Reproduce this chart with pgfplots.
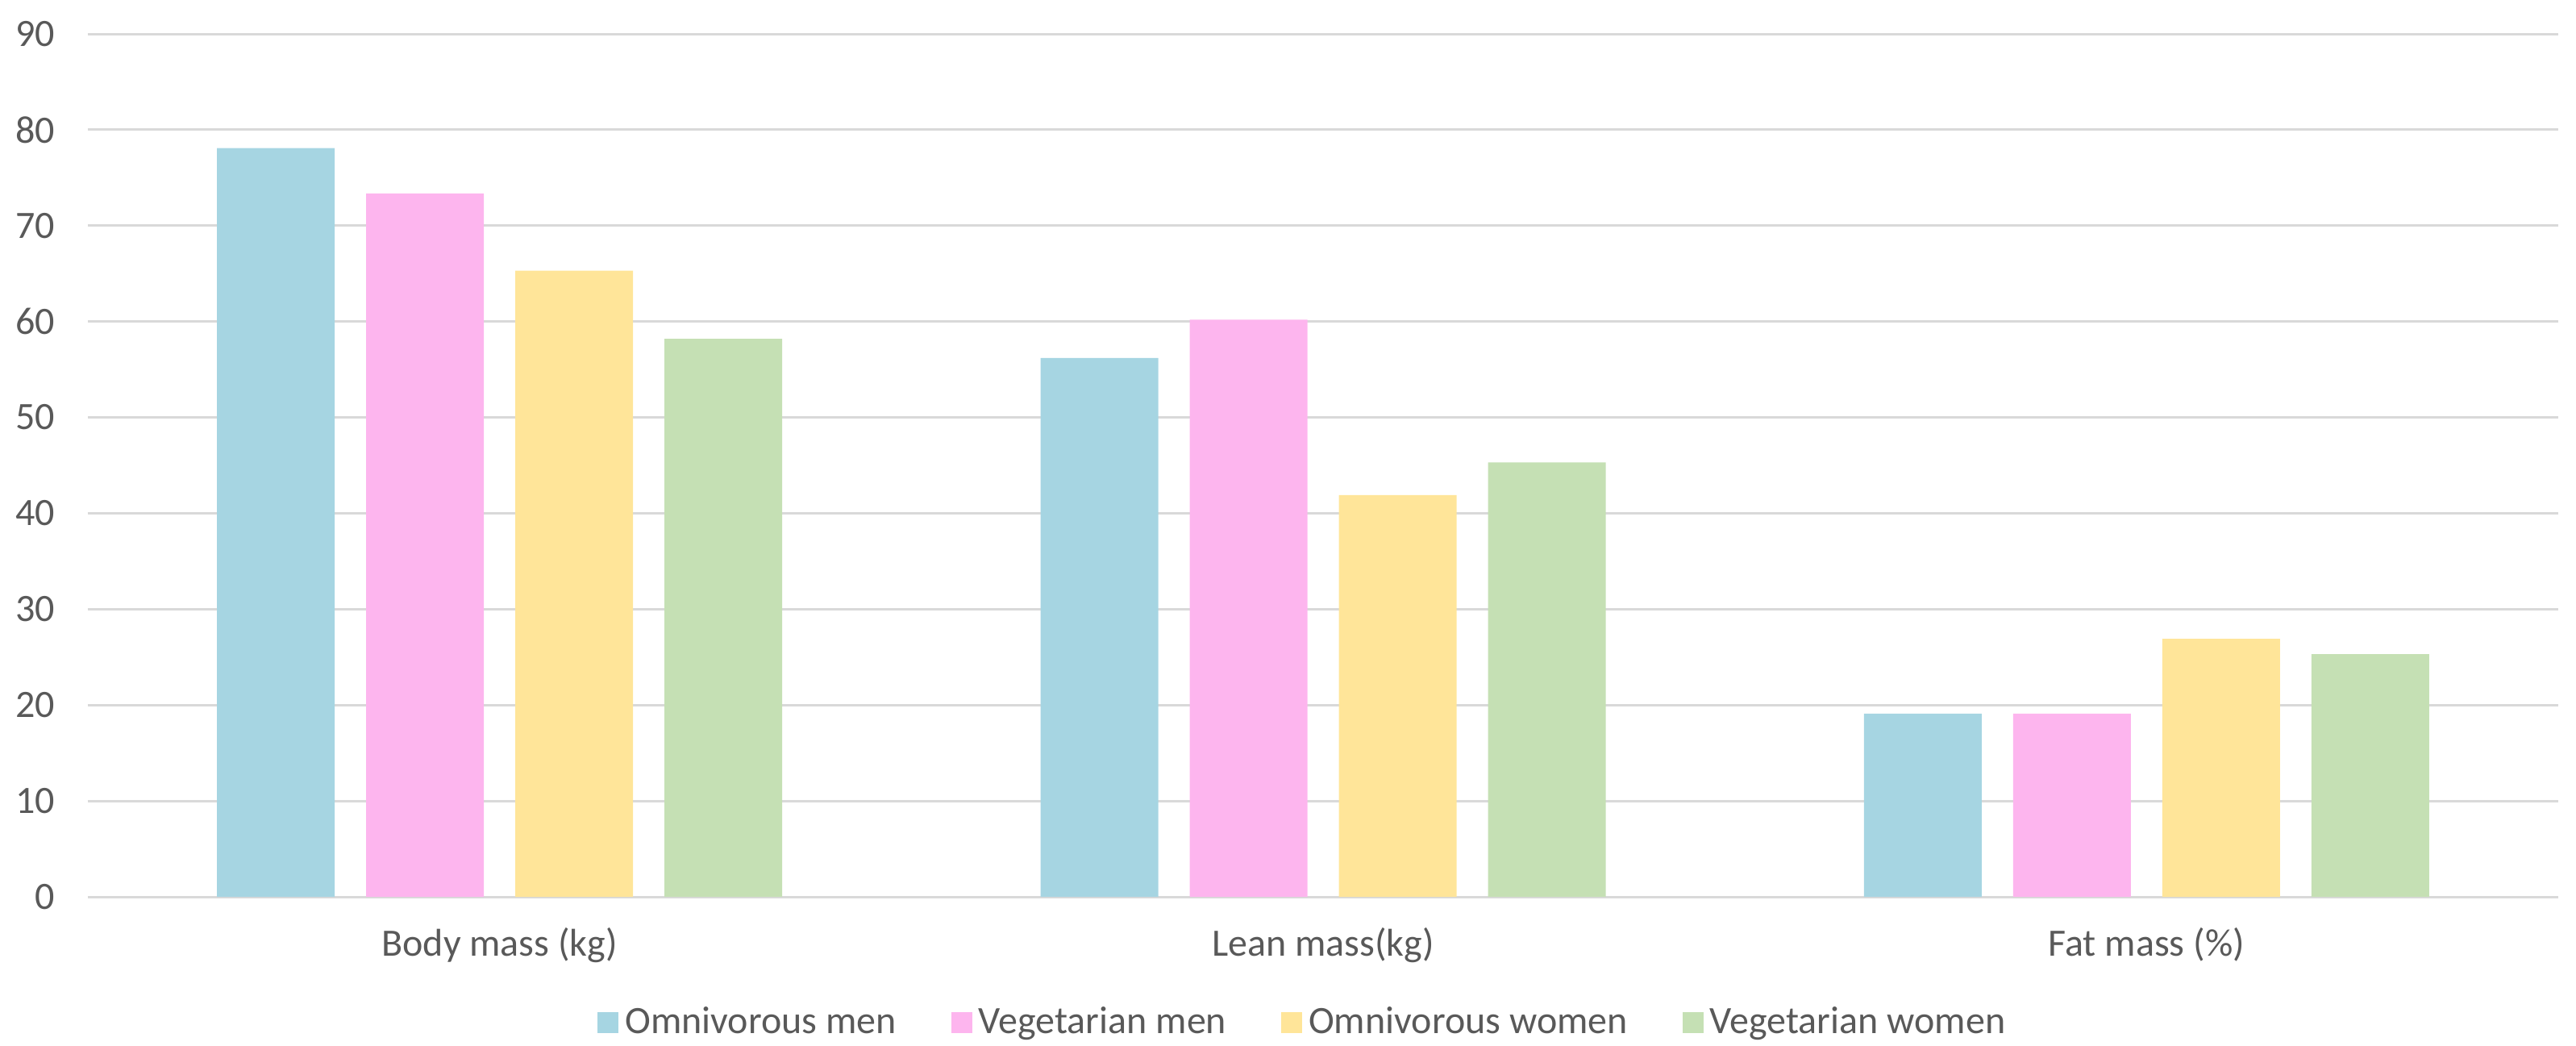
\documentclass[border=0pt]{standalone}
\usepackage{fontspec}
\setmainfont{Carlito}
\usepackage{pgfplots}
\pgfplotsset{compat=1.18}
\definecolor{omen}{RGB}{166,213,226}
\definecolor{vmen}{RGB}{253,181,238}
\definecolor{owom}{RGB}{255,229,153}
\definecolor{vwom}{RGB}{197,224,180}
\definecolor{txt}{RGB}{89,89,89}
\definecolor{grd}{RGB}{217,217,217}
\begin{document}
\begin{tikzpicture}
\begin{axis}[
  scale only axis,
  width=766pt, height=267.5pt,
  xmin=-0.5, xmax=2.5,
  ymin=0, ymax=90,
  ytick={0,10,...,90},
  xtick={0,1,2},
  xticklabels={Body mass (kg),Lean mass(kg),Fat mass (\%)},
  ybar=9.75pt,
  bar width=36.5pt,
  axis line style={draw=none},
  major tick length=0pt,
  ymajorgrids,
  grid style={color=grd, line width=0.75pt},
  font=\fontsize{12}{14}\selectfont,
  tick label style={text=txt, font=\fontsize{12}{14}\selectfont},
  /pgf/number format/assume math mode=true,
  yticklabel style={xshift=-6.75pt},
  xticklabel style={yshift=-6pt},
  legend columns=4,
  legend style={at={(0.4926,-0.1458)}, anchor=center, draw=none, fill=none,
    font=\fontsize{12}{14}\selectfont, text=txt,
    /tikz/every even column/.append style={column sep=15pt}},
  legend image code/.code={\fill[#1] (0pt,-3.25pt) rectangle (6.5pt,3.25pt);},
  clip=false,
]
\addplot[fill=omen, draw=none] coordinates {(0,78.1) (1,56.2) (2,19.1)};
\addplot[fill=vmen, draw=none] coordinates {(0,73.35) (1,60.2) (2,19.1)};
\addplot[fill=owom, draw=none] coordinates {(0,65.3) (1,41.9) (2,26.9)};
\addplot[fill=vwom, draw=none] coordinates {(0,58.2) (1,45.3) (2,25.3)};
\legend{Omnivorous men,Vegetarian men,Omnivorous women,Vegetarian women}
\coordinate (O) at (rel axis cs:0,0);
\end{axis}
\pgfresetboundingbox
\path[use as bounding box] (O) ++(-27.25pt,-46.25pt) rectangle ++(798.75pt,324.25pt);
\end{tikzpicture}
\end{document}
